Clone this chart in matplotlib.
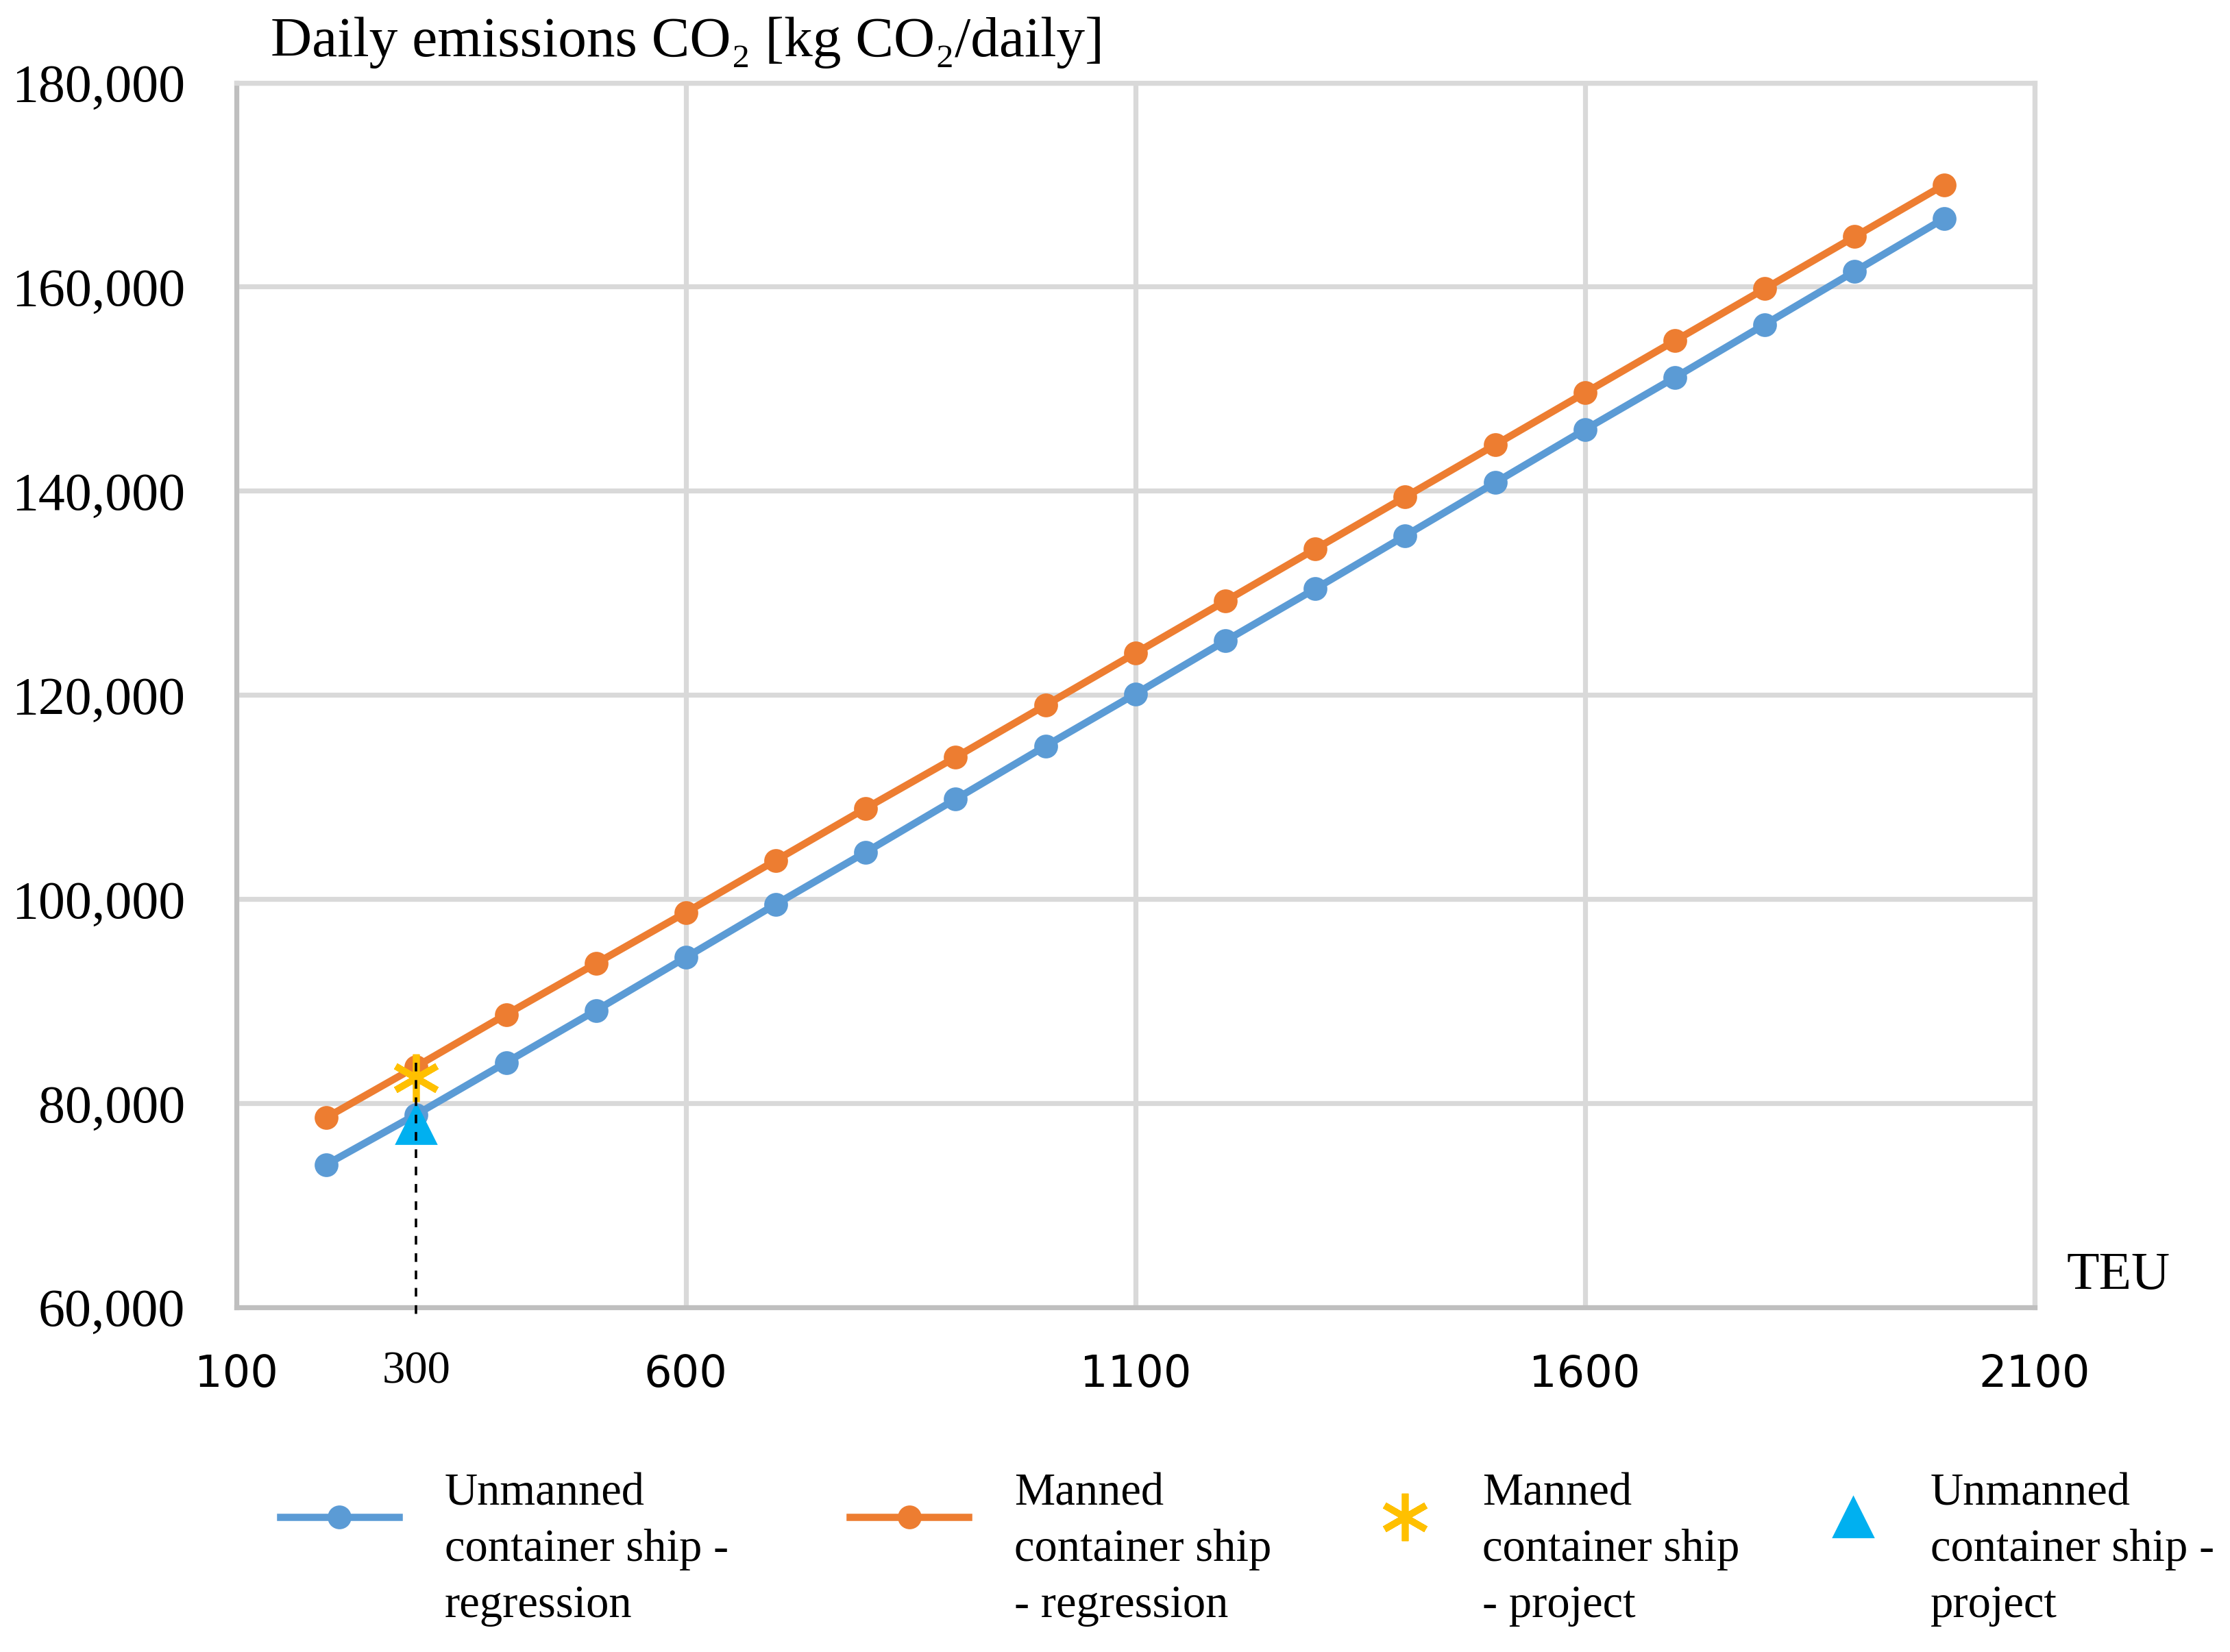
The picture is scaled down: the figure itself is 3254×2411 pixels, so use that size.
import numpy as np
import matplotlib.pyplot as plt
from matplotlib.ticker import FuncFormatter

teu = [200, 300, 400, 500, 600, 700, 800, 900, 1000, 1100,
       1200, 1300, 1400, 1500, 1600, 1700, 1800, 1900, 2000]
unmanned = [74000, 78900, 84000, 89100, 94300, 99500, 104600, 109800, 115000, 120100,
            125300, 130400, 135600, 140800, 146000, 151100, 156300, 161500, 166700]
manned = [78600, 83600, 88700, 93700, 98700, 103800, 108900, 113900, 119000, 124100,
          129200, 134300, 139400, 144500, 149600, 154700, 159800, 164900, 170000]

teu_project = 300
manned_project = 82500
unmanned_project = 78000

xticks = [100, 600, 1100, 1600, 2100]
yticks = [60000, 80000, 100000, 120000, 140000, 160000, 180000]

labels = ['Unmanned\ncontainer ship -\nregression',
          'Manned\ncontainer ship\n- regression',
          'Manned\ncontainer ship\n- project',
          'Unmanned\ncontainer ship -\nproject']

serif = ['Liberation Serif', 'DejaVu Serif']

fig = plt.figure(figsize=(16.275, 12.055), dpi=200)
ax = fig.add_axes([0.106, 0.2086, 0.806, 0.7414])

l1, = ax.plot(teu, unmanned, color='#5B9BD5', lw=3.8, marker='o', ms=11.5, zorder=3)
l2, = ax.plot(teu, manned, color='#ED7D31', lw=3.8, marker='o', ms=11.5, zorder=3)
l4, = ax.plot([teu_project], [unmanned_project], ls='none', marker='^', ms=21,
              color='#00B0F0', zorder=4)
l3, = ax.plot([teu_project], [manned_project], ls='none', marker=(6, 2, 0), ms=25,
              mew=3.5, color='#FFC000', zorder=5)
ax.plot([teu_project, teu_project], [manned_project + 1500, 59000], color='black',
        lw=1.3, dashes=(3.5, 3.5), clip_on=False, zorder=6)

ax.set_xlim(100, 2100)
ax.set_ylim(60000, 180000)
ax.set_xticks(xticks)
ax.set_yticks(yticks)
ax.yaxis.set_major_formatter(FuncFormatter(lambda v, p: f'{int(v):,}'))
ax.grid(True, color='#D9D9D9', lw=2.6)
ax.set_axisbelow(True)
ax.tick_params(length=0)
ax.tick_params(axis='y', pad=27, labelsize=28)
ax.tick_params(axis='x', pad=24, labelsize=23)
for t in ax.get_yticklabels():
    t.set_family(serif)
for t in ax.get_xticklabels():
    t.set_family('DejaVu Sans')

for s in ['left', 'bottom']:
    ax.spines[s].set_color('#BFBFBF')
    ax.spines[s].set_linewidth(2.6)
for s in ['top', 'right']:
    ax.spines[s].set_color('#D9D9D9')
    ax.spines[s].set_linewidth(2.6)

ax.text(teu_project, -0.0525, str(teu_project), transform=ax.get_xaxis_transform(),
        ha='center', va='center', fontsize=24, family=serif)
fig.text(0.1212, 0.9743, 'Daily emissions CO\u2082 [kg CO\u2082/daily]', fontsize=30,
         family=serif, ha='left', va='center')
fig.text(0.9263, 0.2277, 'TEU', fontsize=28, family=serif, ha='left', va='center')

handles = [l1, l2, l3, l4]
xs = [0.1256, 0.381, 0.6154, 0.8163]
hlen = [2.6, 2.6, 1.4, 1.4]
for h, lab, x, hl in zip(handles, labels, xs, hlen):
    leg = fig.legend([h], [lab], loc='center left', bbox_to_anchor=(x, 0.0585),
                     frameon=False, borderpad=0, borderaxespad=0, handlelength=hl,
                     handleheight=5.5, handletextpad=1.0, numpoints=1,
                     prop={'family': serif, 'size': 24})
    for t in leg.get_texts():
        t.set_linespacing(1.45)

fig.savefig('out.png', dpi=200)
